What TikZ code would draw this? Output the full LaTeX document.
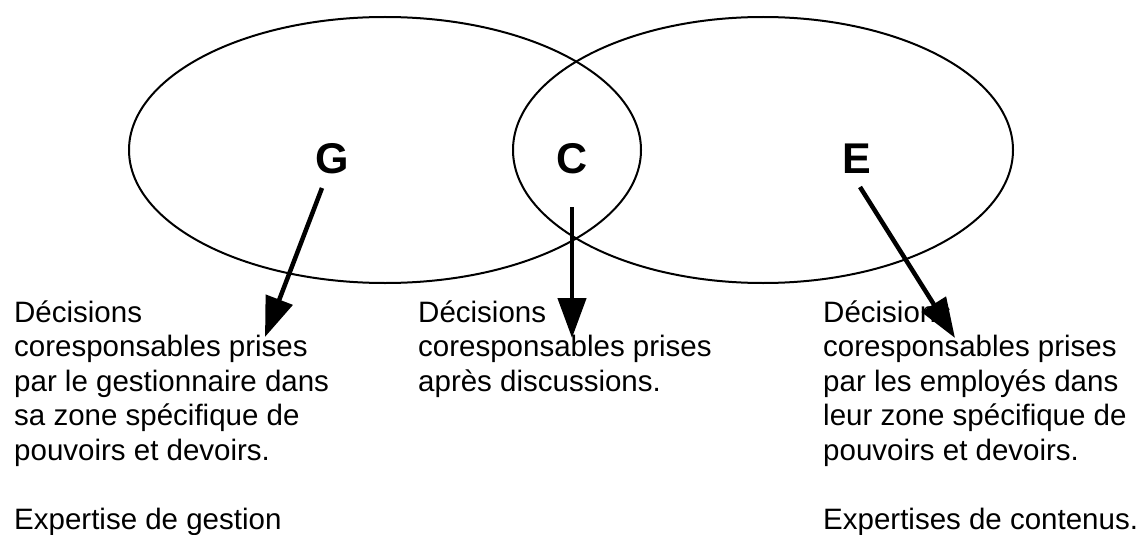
\documentclass[tikz,border=0pt]{standalone}
\usepackage{fontspec}
\setmainfont{Liberation Sans}
\usetikzlibrary{arrows.meta,shapes.geometric}
\begin{document}
\begin{tikzpicture}[x=1pt,y=-1pt,
  ring/.style={draw, ellipse, line width=2pt, inner sep=0pt},
  letter/.style={font=\fontsize{43}{50}\selectfont\bfseries, anchor=base, inner sep=0pt},
  txt/.style={font=\fontsize{29.5}{34.6}\selectfont, anchor=base west, inner sep=0pt},
  pointer/.style={line width=4.5pt, -{Triangle[length=40pt,width=28pt]}}]
\useasboundingbox (0,0) rectangle (1144,535);
\node[ring, minimum width=512pt, minimum height=266pt] (Gset) at (385,150) {};
\node[ring, minimum width=500pt, minimum height=266pt] (Eset) at (763,150) {};
\node[letter] (G) at (332,173) {G};
\node[letter] (C) at (572,173) {C};
\node[letter] (E) at (857,173) {E};
\coordinate (gs) at (322,188); \coordinate (gt) at (265,337);
\coordinate (cs) at (572,207); \coordinate (ct) at (572,338);
\coordinate (es) at (860,187); \coordinate (et) at (955,338);
\draw[pointer] (gs) -- (gt);
\draw[pointer] (cs) -- (ct);
\draw[pointer] (es) -- (et);
\node[txt] (lt) at (14,322) {\vtop{\hbox{Décisions}\hbox{coresponsables prises}\hbox{par le gestionnaire dans}\hbox{sa zone spécifique de}\hbox{pouvoirs et devoirs.}\hbox{}\hbox{Expertise de gestion}}};
\node[txt] (mt) at (418,322) {\vtop{\hbox{Décisions}\hbox{coresponsables prises}\hbox{après discussions.}}};
\node[txt] (rt) at (823,322) {\vtop{\hbox{Décisions}\hbox{coresponsables prises}\hbox{par les employés dans}\hbox{leur zone spécifique de}\hbox{pouvoirs et devoirs.}\hbox{}\hbox{Expertises de contenus.}}};
\end{tikzpicture}
\end{document}
